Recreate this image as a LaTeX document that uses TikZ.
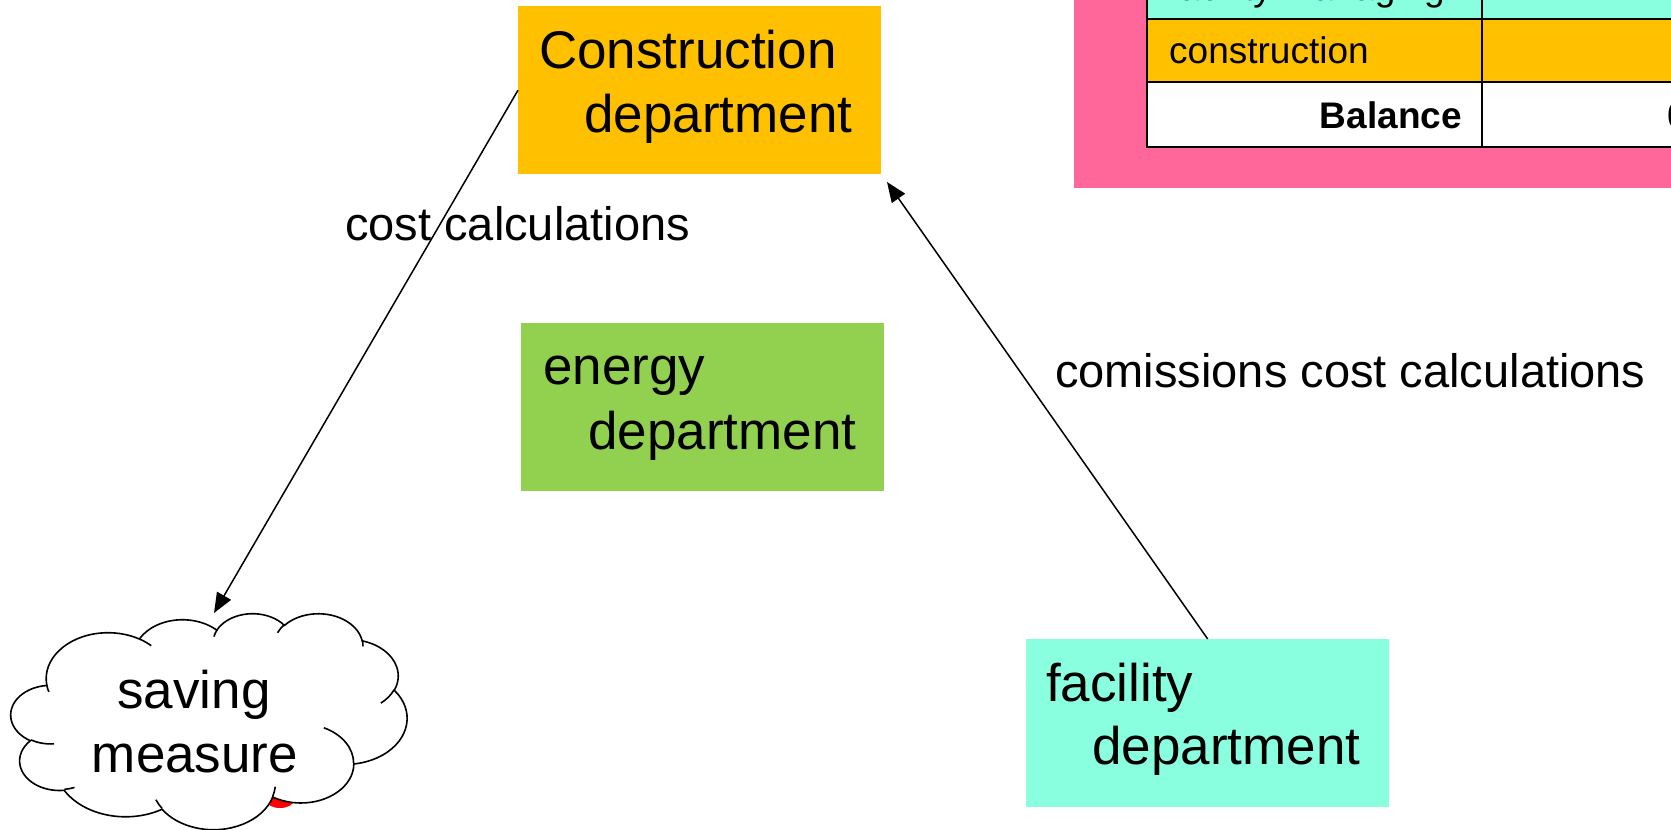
\documentclass[tikz,border=0pt]{standalone}
\usepackage{fontspec}
\setmainfont{Liberation Sans}
\usetikzlibrary{arrows.meta}
\definecolor{orangec}{RGB}{255,192,0}
\definecolor{greenc}{RGB}{146,208,80}
\definecolor{cyanc}{RGB}{138,255,224}
\definecolor{pinkc}{RGB}{255,102,153}
\tikzset{
  deptbox/.style={fill=#1, draw=none, minimum width=363pt, minimum height=168pt, inner sep=0pt, anchor=north west},
  boxtext/.style={anchor=base west, inner sep=0pt, font=\fontsize{53}{64}\selectfont},
  lbl/.style={anchor=base west, inner sep=0pt, font=\fontsize{47}{56}\selectfont},
  tabtext/.style={inner sep=0pt, font=\fontsize{37}{44}\selectfont},
  tabline/.style={line width=2.5pt, black},
  conn/.style={line width=1.5pt, -{Triangle[length=20pt,width=16pt]}},
  cloudline/.style={line width=1.6pt, black},
}
% elliptical arc with OOXML-style (visual) angles
\newcommand\ooarc[4]{%
  \pgfextra{%
    \pgfmathparse{atan2((#1)*sin(#3),(#2)*cos(#3))}\xdef\ooTs{\pgfmathresult}%
    \pgfmathparse{atan2((#1)*sin(#3+#4),(#2)*cos(#3+#4))}\xdef\ooTe{\pgfmathresult}%
    \pgfmathparse{\ooTs+mod(\ooTe-\ooTs+720,360)}\xdef\ooTe{\pgfmathresult}%
  }%
  arc[x radius=#1, y radius=#2, start angle=\ooTs, end angle=\ooTe]%
}
\begin{document}
\begin{tikzpicture}[x=1pt,y=-1pt]
\useasboundingbox (0,0) rectangle (1671,830);
\clip (0,0) rectangle (1671,830);
% pink panel with table
\fill[pinkc] (1074,-5) rectangle (1690,188);
\fill[cyanc] (1147,-60) rectangle (1690,19);
\fill[orangec] (1147,19) rectangle (1690,82);
\fill[white] (1147,82) rectangle (1690,147);
\draw[tabline] (1147,-60) -- (1147,147) -- (1690,147);
\draw[tabline] (1482,-60) -- (1482,147);
\draw[tabline] (1147,19) -- (1690,19);
\draw[tabline] (1147,82) -- (1690,82);
\node[tabtext, anchor=base west] (t1) at (1169,0.5) {facility managing};
\node[tabtext, anchor=base west] (t2) at (1169,63) {construction};
\node[tabtext, anchor=base east, font=\fontsize{37}{44}\selectfont\bfseries] (t3) at (1462,128) {Balance};
\node[tabtext, anchor=base west, font=\fontsize{37}{44}\selectfont\bfseries] (t4) at (1667,128) {0};
% boxes
\node[deptbox=orangec] (cons) at (518,6) {};
\node[boxtext] (cons1) at (539,68) {Construction};
\node[boxtext] (cons2) at (584,132) {department};
\node[deptbox=greenc] (ener) at (521,323) {};
\node[boxtext] (ener1) at (543,384) {energy};
\node[boxtext] (ener2) at (588,449) {department};
\node[deptbox=cyanc] (faci) at (1026,639) {};
\node[boxtext] (faci1) at (1046,701) {facility};
\node[boxtext] (faci2) at (1092,764) {department};
% cloud (PowerPoint-style)
\fill[red] (280,800) ellipse [x radius=14, y radius=8];
\begin{scope}[shift={(11,613)}, xscale=396/4320, yscale=216/4320]
\filldraw[cloudline, fill=white] (390,1437)
  \ooarc{675.3}{919.0}{-190.4875}{123.7805}
  \ooarc{533.3}{726.7}{-144.1024}{89.9452}
  \ooarc{436.5}{594.5}{-145.8079}{99.7230}
  \ooarc{485.7}{659.5}{-130.9861}{117.2417}
  \ooarc{533.3}{727.3}{-78.7089}{109.0269}
  \ooarc{677.5}{922.0}{-46.2673}{130.2690}
  \ooarc{578.5}{786.7}{0.6250}{114.0333}
  \ooarc{675.2}{921.5}{22.4516}{115.1726}
  \ooarc{772.0}{1054.3}{66.2426}{75.7110}
  \ooarc{436.0}{591.8}{-274.9421}{146.7356}
  \ooarc{434.5}{594.5}{-246.8285}{152.5189}
  -- cycle;
\draw[cloudline]
  (469.3,2617.7) \ooarc{434.5}{594.5}{86.7420}{26.4295}
  (692.8,3489.9) \ooarc{436.0}{591.8}{73.6105}{11.4475}
  (1647.8,3909.0) \ooarc{675.2}{921.5}{137.6242}{14.0811}
  (2882.7,3475.1) \ooarc{675.2}{921.5}{6.4533}{15.9984}
  (3412.9,2295.4) \ooarc{578.5}{786.7}{-70.2924}{70.9174}
  (4179.8,1535.4) \ooarc{533.3}{727.3}{30.3180}{27.7515}
  (3832.4,542.6) \ooarc{485.7}{659.5}{-13.7443}{14.8589}
  (2907.8,395.2) \ooarc{485.7}{659.5}{-149.1815}{18.1954}
  (2214.1,472.0) \ooarc{436.5}{594.5}{-163.4943}{17.6864}
  (1400.0,519.2) \ooarc{675.3}{919.0}{-66.7070}{12.3194}
  (412.7,1578.9) \ooarc{675.3}{919.0}{157.6544}{11.8582};
\end{scope}
\coordinate (cloudtop) at (214,613);
\node[boxtext, anchor=base] (cl1) at (194,708) {saving};
\node[boxtext, anchor=base] (cl2) at (195,772) {measure};
% connectors
\coordinate (ktip) at (887,182);
\draw[conn] (cons.west) -- (cloudtop);
\draw[conn] (faci.north) -- (ktip);
\node[lbl] (l1) at (345,240) {cost calculations};
\node[lbl] (l2) at (1055,387) {comissions cost calculations};
\end{tikzpicture}
\end{document}
